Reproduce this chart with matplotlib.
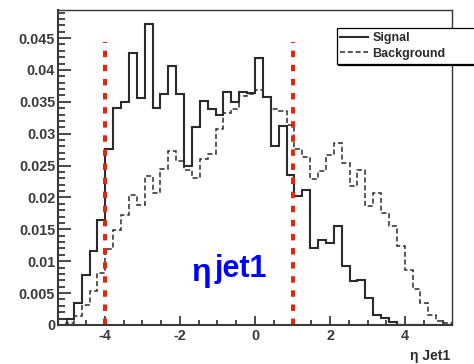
import numpy as np
import matplotlib
matplotlib.use("Agg")
import matplotlib.pyplot as plt
from matplotlib.ticker import MultipleLocator, FuncFormatter

# eta of leading jet, normalised, 50 bins
x_lo, x_hi, n_bins = -5.25, 5.25, 50

signal = [0.0009, 0.0009, 0.0034, 0.0079, 0.0116, 0.0165, 0.0276, 0.0341, 0.0349, 0.0427,
          0.0356, 0.0472, 0.0341, 0.0362, 0.0406, 0.0362, 0.0250, 0.0310, 0.0352, 0.0339,
          0.0330, 0.0365, 0.0349, 0.0366, 0.0364, 0.0419, 0.0358, 0.0281, 0.0312, 0.0235,
          0.0202, 0.0211, 0.0120, 0.0133, 0.0128, 0.0156, 0.0093, 0.0069, 0.0070, 0.0043,
          0.0015, 0.0011, 0.0004, 0, 0, 0, 0, 0, 0, 0]

background = [0, 0.0003, 0.0014, 0.0031, 0.0053, 0.0081, 0.0119, 0.0149, 0.0173, 0.0204,
              0.0188, 0.0233, 0.0207, 0.0244, 0.0273, 0.0257, 0.0243, 0.0230, 0.0260, 0.0268,
              0.0308, 0.0333, 0.0338, 0.0359, 0.0362, 0.0368, 0.0357, 0.0338, 0.0336, 0.0313,
              0.0276, 0.0263, 0.0229, 0.0242, 0.0267, 0.0285, 0.0254, 0.0218, 0.0243, 0.0187,
              0.0207, 0.0176, 0.0156, 0.0124, 0.0086, 0.0057, 0.0035, 0.0015, 0.0007, 0.0003]

# cut window
cuts = [-4, 1]
cut_top = 0.0444

plt.rcParams['font.family'] = ['Liberation Sans', 'DejaVu Sans']
plt.rcParams['font.weight'] = 'bold'
plt.rcParams['axes.unicode_minus'] = False

W, H = 474, 364
fig = plt.figure(figsize=(W / 100, H / 100), dpi=100)
ax = fig.add_axes([58 / W, 1 - 325 / H, (452 - 58) / W, (325 - 10) / H])

edges = np.linspace(x_lo, x_hi, n_bins + 1)
ax.stairs(signal, edges, color='#2b2b2b', lw=1.5, label='Signal')
ax.stairs(background, edges, color='#2b2b2b', lw=1.1, ls=(0, (3.3, 1.8)), label='Background')
for c in cuts:
    ax.plot([c, c], [0, cut_top], color='#dd2a0e', lw=2.9, ls=(0, (1.6, 1.9)))

ax.set_xlim(x_lo, x_hi)
ax.set_ylim(0, 0.0494)
ax.xaxis.set_major_locator(MultipleLocator(2))
ax.xaxis.set_minor_locator(MultipleLocator(0.5))
ax.yaxis.set_major_locator(MultipleLocator(0.005))
ax.yaxis.set_minor_locator(MultipleLocator(0.001))
fmt = FuncFormatter(lambda v, p: '%g' % round(v, 4))
ax.xaxis.set_major_formatter(fmt)
ax.yaxis.set_major_formatter(fmt)

ax.tick_params(which='both', direction='in', top=False, right=False,
               colors='#3a3a3a', labelsize=10.4, width=1.3)
ax.tick_params(axis='y', which='major', length=9.4, pad=2)
ax.tick_params(axis='y', which='minor', length=4.8)
ax.tick_params(axis='x', which='major', length=6.7, pad=3)
ax.tick_params(axis='x', which='minor', length=3.6)
for s in ['left', 'bottom']:
    ax.spines[s].set_linewidth(1.5)
    ax.spines[s].set_color('#3a3a3a')
for s in ['top', 'right']:
    ax.spines[s].set_linewidth(1.0)
    ax.spines[s].set_color('#333333')

leg = ax.legend(loc='upper left', bbox_to_anchor=(336.7 / W, 1 - 28.3 / H, (485 - 336.7) / W, 0),
                bbox_transform=fig.transFigure, mode='expand', borderaxespad=0,
                fancybox=False, framealpha=1, edgecolor='black',
                shadow={'color': 'black', 'alpha': 1, 'ox': 1.1, 'oy': -1.1},
                prop={'size': 9, 'weight': 'bold'}, labelcolor='#2b2b2b',
                handlelength=2.2, handletextpad=0.35, labelspacing=0.3, borderpad=0.3)
leg.get_frame().set_linewidth(0.9)

fig.text(191 / W, 1 - 281 / H, 'η', color='blue', fontsize=23, fontweight='bold', va='baseline')
fig.text(214 / W, 1 - 277 / H, 'jet1', color='blue', fontsize=22, fontweight='bold', va='baseline')
fig.text(450 / W, 1 - 360 / H, 'η Jet1', color='#2b2b2b', fontsize=10, fontweight='bold',
         ha='right', va='baseline')

fig.savefig('out.png', dpi=100)
